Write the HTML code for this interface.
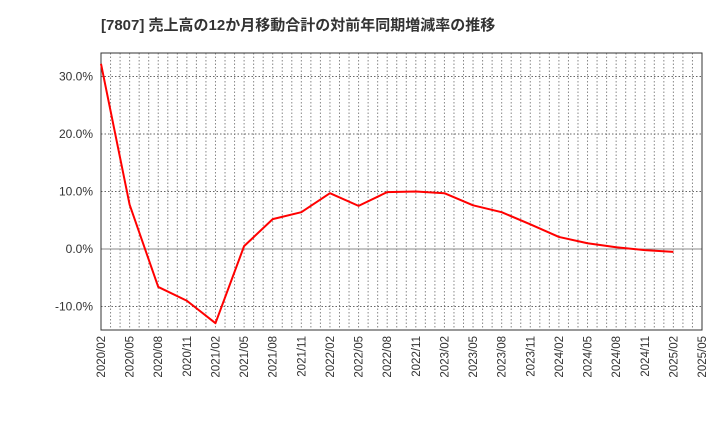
<!DOCTYPE html>
<html><head><meta charset="utf-8"><style>
body{margin:0;background:#fff;}
svg text{font-family:"Liberation Sans","Noto Sans CJK JP",sans-serif;}
</style></head><body>
<svg id="c" width="720" height="440" xmlns="http://www.w3.org/2000/svg">
<text x="101" y="30" font-size="15" font-weight="bold" fill="#333">[7807]  売上高の12か月移動合計の対前年同期増減率の推移</text>
<g id="grid"></g><g id="axes"></g><g id="series"></g>
</svg>
<script>
const categories=["2020/02","2020/05","2020/08","2020/11","2021/02","2021/05","2021/08","2021/11","2022/02","2022/05","2022/08","2022/11","2023/02","2023/05","2023/08","2023/11","2024/02","2024/05","2024/08","2024/11","2025/02","2025/05"];
const values=[32.2,7.7,-6.6,-9.0,-12.9,0.5,5.2,6.4,9.7,7.5,9.9,10.0,9.7,7.6,6.4,4.3,2.1,1.0,0.3,-0.2,-0.5];
const yTicks=[-10,0,10,20,30];
const yLabels=["-10.0%","0.0%","10.0%","20.0%","30.0%"];
const L=101,R=702,T=53,B=330;
const NS="http://www.w3.org/2000/svg";
const xs=i=>L+(R-L)*i/(categories.length-1);
const ys=v=>249-v*5.75;
function mk(p,tag,at){const e=document.createElementNS(NS,tag);for(const k in at)e.setAttribute(k,at[k]);p.appendChild(e);return e;}
const g=document.getElementById('grid'),a=document.getElementById('axes'),s=document.getElementById('series');
for(let m=1;m<(categories.length-1)*3;m++){const x=L+(R-L)*m/((categories.length-1)*3);
const l=mk(g,'line',{x1:x,x2:x,y1:T,y2:B,stroke:'#888','stroke-dasharray':'1.5,2','stroke-width':1});

}
yTicks.forEach((v,i)=>{const y=ys(v);
const l=mk(g,'line',{x1:L,x2:R,y1:y,y2:y,stroke:v===0?'#888':'#666','stroke-dasharray':v===0?'none':'1.5,2','stroke-width':1});


const t=mk(a,'text',{x:L-8,y:y+4,'text-anchor':'end','font-size':12,fill:'#333'});t.textContent=yLabels[i];

});
const fr=mk(a,'rect',{x:L,y:T,width:R-L,height:B-T,fill:'none',stroke:'#333','stroke-width':1});


categories.forEach((c,i)=>{const x=xs(i);
const t=mk(a,'text',{x:x+4,y:B+6,'text-anchor':'end','font-size':11.5,fill:'#333',transform:`rotate(-90 ${x+4} ${B+6})`});t.textContent=c;

});
const p=mk(s,'polyline',{points:values.map((v,i)=>xs(i)+','+ys(v)).join(' '),fill:'none',stroke:'#f00','stroke-width':2,'stroke-linejoin':'round'});


</script>
</body></html>
